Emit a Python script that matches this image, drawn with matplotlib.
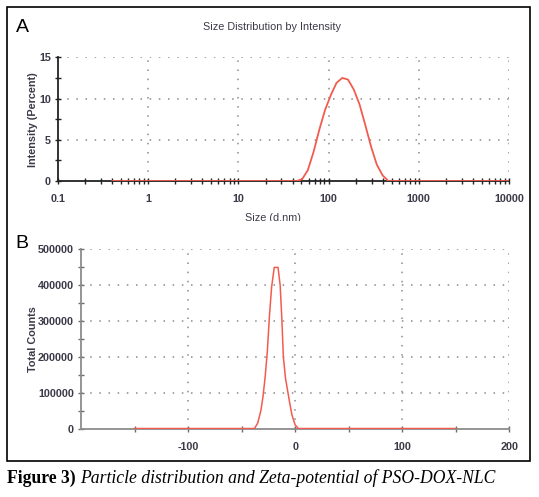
import matplotlib
matplotlib.use("Agg")
import matplotlib.pyplot as plt
from matplotlib.patches import Rectangle
from matplotlib.ticker import FixedLocator, MultipleLocator, NullFormatter, FuncFormatter

# Panel A: size distribution by intensity
size_nm = [0.4, 43.82, 50.75, 58.77, 68.06, 78.82, 91.28, 105.7, 122.4, 141.8, 164.2,
           190.1, 220.2, 255.0, 295.3, 342.0, 396.1, 458.7, 10000]
intensity = [0, 0, 0.2, 1.3, 3.5, 6.2, 8.6, 10.4, 11.9, 12.5, 12.3,
             11.1, 9.3, 6.8, 4.2, 2.0, 0.7, 0, 0]

# Panel B: zeta potential (mV) vs total counts
zeta_mv = [-150, -38, -35, -32, -30, -28, -26, -24, -22, -19.5, -16, -14, -12.5,
           -11, -9, -7, -5, -3, 0, 3, 150]
counts = [0, 0, 15000, 50000, 90000, 145000, 215000, 315000, 395000, 450000, 450000,
          400000, 310000, 200000, 140000, 105000, 70000, 38000, 10000, 0, 0]

size_ticks = [0.1, 1, 10, 100, 1000, 10000]
size_labels = ["0.1", "1", "10", "100", "1000", "10000"]

plt.rcParams["font.family"] = ["Liberation Sans", "DejaVu Sans"]

red = "#f25c4e"
lab_col = "#3c3a48"
fs = 7.8
grid_kw = dict(color="#8a8a8a", linestyle=(0, (1, 5)), linewidth=1.1)

fig = plt.figure(figsize=(5.39, 4.97), dpi=100)

# outer frame
fig.patches.append(Rectangle((0.0135, 0.0724), 0.9707, 0.9129, transform=fig.transFigure,
                             fill=False, edgecolor="black", linewidth=1.2, zorder=5))

# ---------------- A ----------------
ax1 = fig.add_axes([0.1076, 0.6358, 0.8367, 0.2489])
ax1.plot(size_nm, intensity, color=red, linewidth=1.3, zorder=3)
ax1.set_xscale("log")
ax1.set_xlim(0.1, 10000)
ax1.set_ylim(0, 15)
ax1.set_xticks(size_ticks)
ax1.set_xticklabels(size_labels)
ax1.xaxis.set_minor_formatter(NullFormatter())
ax1.yaxis.set_major_locator(MultipleLocator(5))
ax1.yaxis.set_minor_locator(MultipleLocator(2.5))
for s in ["top", "right"]:
    ax1.spines[s].set_visible(False)
for s in ["left", "bottom"]:
    ax1.spines[s].set_color("#222222")
    ax1.spines[s].set_linewidth(1.3)
    ax1.spines[s].set_zorder(2)
ax1.tick_params(which="both", direction="inout", length=4, width=1, color="#222222",
                labelsize=fs, labelcolor=lab_col)
ax1.tick_params(axis="x", pad=7)
ax1.tick_params(axis="y", pad=3)
for lbl in ax1.get_xticklabels() + ax1.get_yticklabels():
    lbl.set_fontweight("bold")
for xv in size_ticks[1:]:
    ax1.axvline(xv, zorder=1, **grid_kw)
for yv in [5, 10, 15]:
    ax1.axhline(yv, zorder=1, **grid_kw)
ax1.set_ylabel("Intensity (Percent)", fontsize=fs, fontweight="bold", color=lab_col, labelpad=1)
ax1.patch.set_visible(False)

fig.text(0.505, 0.946, "Size Distribution by Intensity", fontsize=fs, color=lab_col,
         ha="center", va="center")
fig.text(0.506, 0.561, "Size (d.nm)", fontsize=fs, color=lab_col, ha="center", va="center")
# the x label is cut off at the bottom in the source
fig.patches.append(Rectangle((0.35, 0.53), 0.3, 0.0245, transform=fig.transFigure,
                             facecolor="white", edgecolor="none", zorder=6))
fig.text(0.03, 0.945, "A", fontsize=14, color="black", ha="left", va="center")

# ---------------- B ----------------
ax2 = fig.add_axes([0.1503, 0.1378, 0.7946, 0.3602])
ax2.plot(zeta_mv, counts, color=red, linewidth=1.1, zorder=3)
ax2.set_xlim(-200, 200)
ax2.set_ylim(0, 500000)
ax2.xaxis.set_major_locator(FixedLocator([-150, -100, -50, 0, 50, 100, 150, 200]))
ax2.xaxis.set_major_formatter(FuncFormatter(lambda v, p: "%d" % v if v % 100 == 0 else ""))
ax2.yaxis.set_major_locator(MultipleLocator(100000))
ax2.yaxis.set_minor_locator(MultipleLocator(50000))
ax2.yaxis.set_major_formatter(FuncFormatter(lambda v, p: "%d" % v))
for s in ["top", "right"]:
    ax2.spines[s].set_visible(False)
for s in ["left", "bottom"]:
    ax2.spines[s].set_color("#8c8c8c")
    ax2.spines[s].set_linewidth(1.3)
    ax2.spines[s].set_zorder(2)
ax2.tick_params(which="both", direction="inout", length=4, width=1, color="#6c6c6c",
                labelsize=fs, labelcolor=lab_col)
ax2.tick_params(axis="x", pad=8)
ax2.tick_params(axis="y", pad=3)
for lbl in ax2.get_xticklabels() + ax2.get_yticklabels():
    lbl.set_fontweight("bold")
for xv in [-100, 0, 100, 200]:
    ax2.axvline(xv, zorder=1, **grid_kw)
for yv in [100000, 200000, 300000, 400000, 500000]:
    ax2.axhline(yv, zorder=1, **grid_kw)
ax2.set_ylabel("Total Counts", fontsize=fs, fontweight="bold", color=lab_col, labelpad=0)
ax2.patch.set_visible(False)

fig.text(0.028, 0.51, "B", fontsize=14, color="black", ha="left", va="center")

# caption
r = fig.canvas.get_renderer()
t1 = fig.text(0.013, 0.028, "Figure 3)", fontsize=12.7, fontweight="bold",
              family="Liberation Serif", ha="left", va="baseline")
bb = t1.get_window_extent(renderer=r)
x2 = (bb.x1 + 4) / fig.bbox.width
fig.text(x2, 0.028, "Particle distribution and Zeta-potential of PSO-DOX-NLC", fontsize=12.7,
         style="italic", family="Liberation Serif", ha="left", va="baseline")

fig.savefig("out.png", dpi=100)
